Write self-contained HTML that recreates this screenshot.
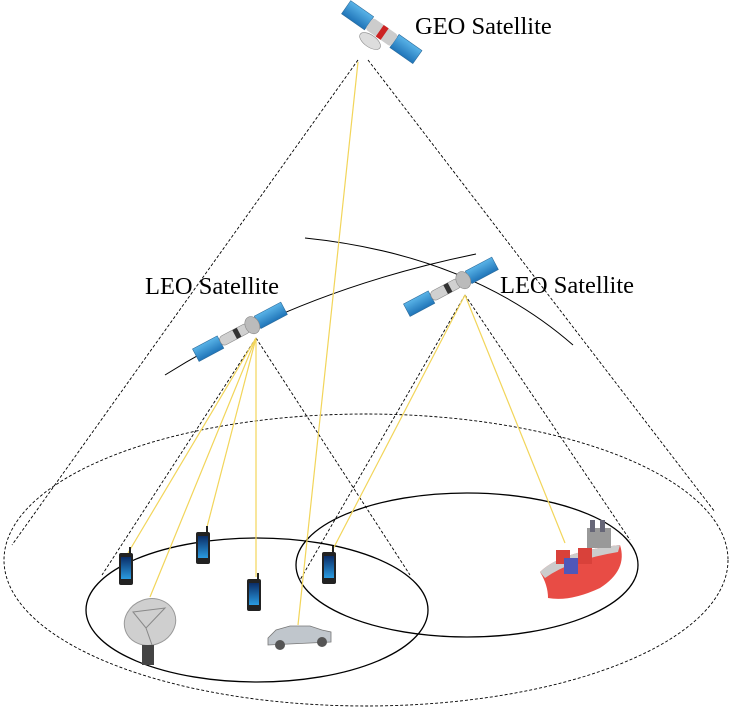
<!DOCTYPE html>
<html><head><meta charset="utf-8"><style>html,body{margin:0;padding:0;background:#fff}svg{display:block}</style></head><body>
<svg width="737" height="713" viewBox="0 0 737 713" xmlns="http://www.w3.org/2000/svg">
<defs>
<linearGradient id="pan" x1="0" y1="0" x2="0" y2="1"><stop offset="0" stop-color="#5ab4e8"/><stop offset="1" stop-color="#1f74b8"/></linearGradient>
<linearGradient id="scr" x1="0" y1="0" x2="0" y2="1"><stop offset="0" stop-color="#0a2c66"/><stop offset="1" stop-color="#2a9be0"/></linearGradient>
<g id="phone"><rect x="-7" y="-16" width="14" height="32" rx="2" fill="#222"/><rect x="-5" y="-12" width="10" height="22" fill="url(#scr)"/><rect x="3" y="-22" width="2" height="7" fill="#222"/></g>
<g id="leo"><g transform="rotate(-28)"><rect x="-58" y="-7" width="28" height="14" fill="url(#pan)" stroke="#2b6a9a" stroke-width="0.6"/><rect x="12" y="-7" width="30" height="14" fill="url(#pan)" stroke="#2b6a9a" stroke-width="0.6"/><rect x="-30" y="-5" width="32" height="10" rx="4" fill="#d0d0d0" stroke="#888" stroke-width="0.6"/><rect x="-14" y="-5" width="5" height="10" fill="#333"/><ellipse cx="6" cy="0" rx="7" ry="9" fill="#bbb" stroke="#888" stroke-width="0.6"/></g></g>
</defs>
<g fill="none" stroke="#000" stroke-width="0.9" stroke-dasharray="3,2">
<ellipse cx="366" cy="560" rx="362" ry="146"/>
<line x1="358" y1="60" x2="12" y2="545"/>
<line x1="368" y1="60" x2="715" y2="512"/>
<line x1="256" y1="338" x2="102" y2="575"/>
<line x1="256" y1="338" x2="410" y2="575"/>
<line x1="465" y1="295" x2="300" y2="580"/>
<line x1="465" y1="295" x2="630" y2="540"/>
</g>
<g fill="none" stroke="#000" stroke-width="1.3">
<ellipse cx="257" cy="610" rx="171" ry="72"/>
<ellipse cx="467" cy="565" rx="171" ry="72"/>
<path d="M165 375 Q 300 290 476 254" stroke-width="1"/>
<path d="M305 238 Q 470 255 573 345" stroke-width="1"/>
</g>
<g stroke="#f2d55a" stroke-width="1.2">
<line x1="358" y1="62" x2="298" y2="625"/>
<line x1="256" y1="338" x2="128" y2="553"/>
<line x1="256" y1="338" x2="150" y2="597"/>
<line x1="256" y1="338" x2="207" y2="527"/>
<line x1="256" y1="338" x2="256" y2="577"/>
<line x1="465" y1="295" x2="332" y2="551"/>
<line x1="465" y1="295" x2="565" y2="543"/>
</g>
<use href="#leo" transform="translate(247,328)"/>
<use href="#leo" transform="translate(458,283)"/>
<g transform="translate(383,33) rotate(35)"><rect x="-45" y="-8" width="28" height="16" fill="url(#pan)" stroke="#2b6a9a" stroke-width="0.6"/><rect x="14" y="-8" width="28" height="16" fill="url(#pan)" stroke="#2b6a9a" stroke-width="0.6"/><rect x="-17" y="-7" width="31" height="14" rx="3" fill="#ccc"/><rect x="-4" y="-7" width="6" height="14" fill="#c22"/><ellipse cx="-6" cy="14" rx="12" ry="6" fill="#ddd" stroke="#888" stroke-width="0.6"/></g>
<use href="#phone" x="126" y="569"/>
<use href="#phone" x="203" y="548"/>
<use href="#phone" x="254" y="595"/>
<use href="#phone" x="329" y="568"/>
<g><ellipse cx="150" cy="622" rx="26" ry="23" fill="#cfcfcf" stroke="#999" transform="rotate(-20 150 622)"/><path d="M133 612 L165 608 L146 628 Z M146 628 L152 645" fill="none" stroke="#888"/><rect x="142" y="645" width="12" height="20" fill="#444"/></g>
<g><path d="M268 638 L276 630 L290 626 L310 626 L322 630 L331 632 L331 642 L268 645 Z" fill="#c0c6cc" stroke="#777" stroke-width="0.8"/><circle cx="280" cy="645" r="5" fill="#555"/><circle cx="322" cy="642" r="5" fill="#555"/></g>
<g><path d="M540 572 Q 560 552 620 545 Q 628 570 600 588 Q 570 602 548 598 Q 548 585 540 572 Z" fill="#e84c45"/><path d="M540 572 Q 560 552 620 545 L618 552 Q 570 560 545 578 Z" fill="#ccc"/><rect x="556" y="550" width="14" height="14" fill="#d9413a"/><rect x="564" y="558" width="14" height="16" fill="#5057b8"/><rect x="578" y="548" width="14" height="16" fill="#d9413a"/><rect x="587" y="528" width="24" height="20" fill="#999"/><rect x="590" y="520" width="5" height="12" fill="#667"/><rect x="600" y="520" width="5" height="12" fill="#667"/></g>
<g font-family="Liberation Serif, serif" font-size="24.5" fill="#000">
<text x="415" y="34">GEO Satellite</text>
<text x="145" y="294">LEO Satellite</text>
<text x="500" y="293">LEO Satellite</text>
</g>
</svg>
</body></html>
